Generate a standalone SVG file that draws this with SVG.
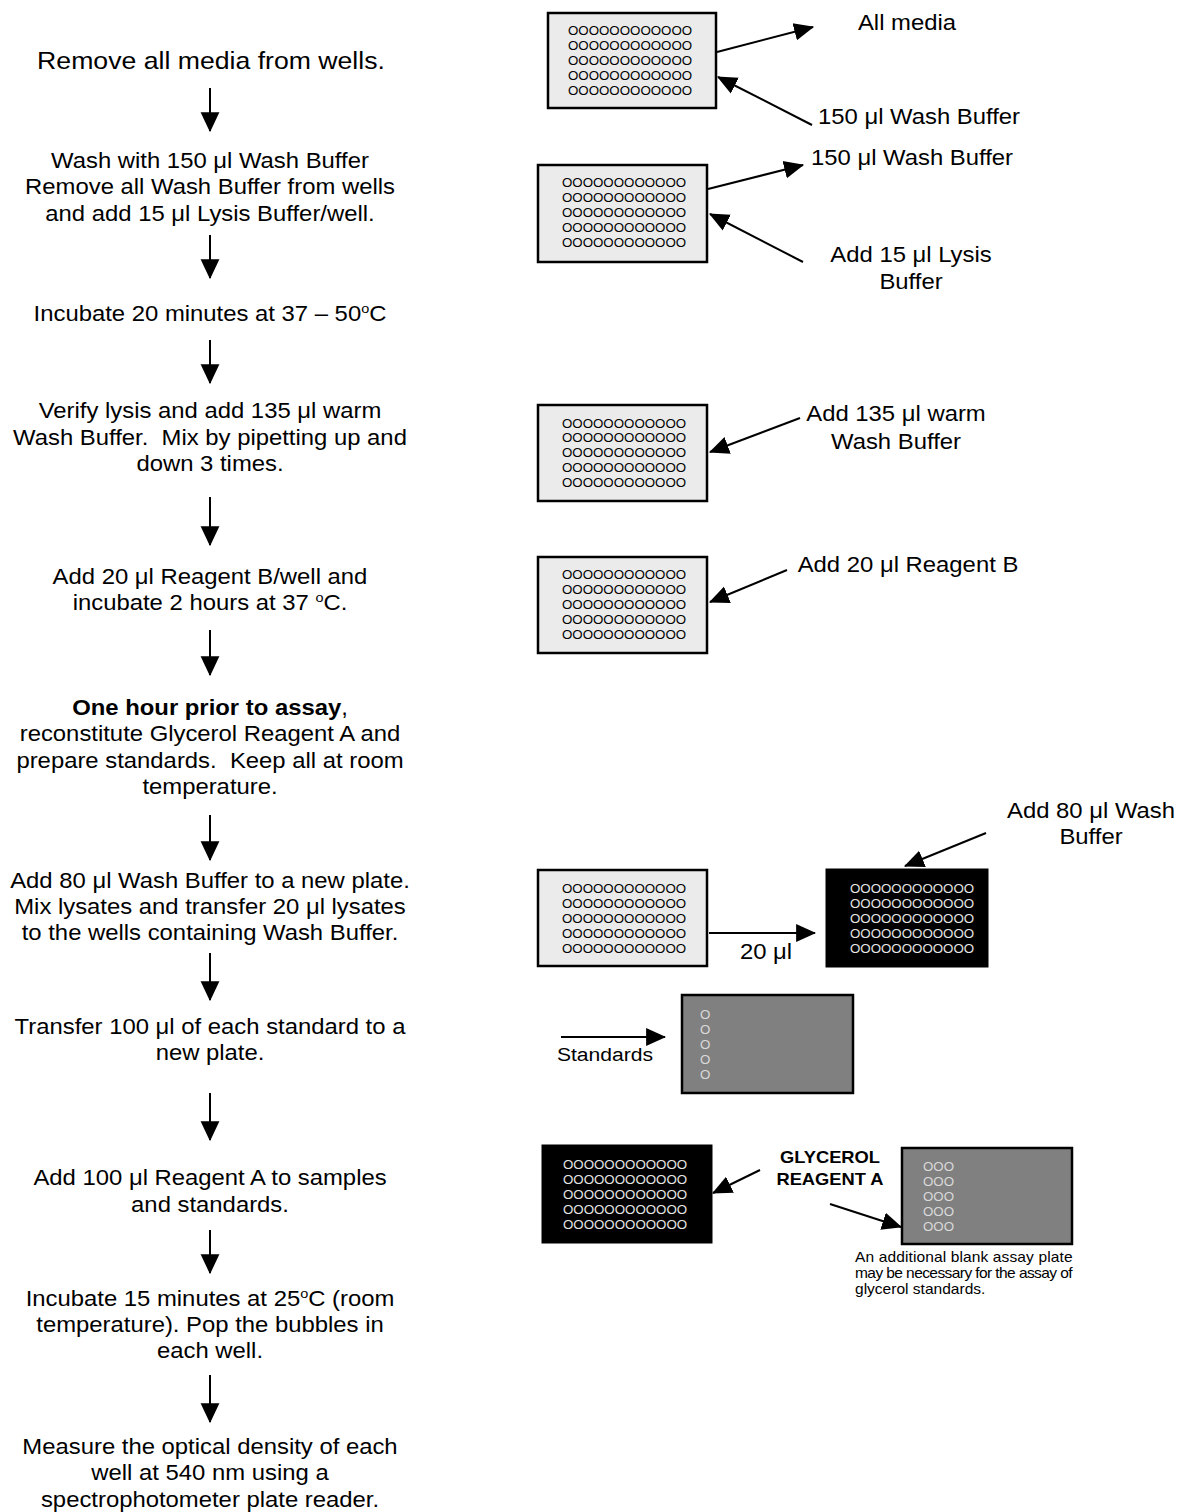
<svg xmlns="http://www.w3.org/2000/svg" width="1178" height="1512" viewBox="0 0 1178 1512">
<style>
text{font-family:"Liberation Sans",Arial,sans-serif;fill:#000}
.t{font-size:21.5px;text-anchor:middle}
.s{font-size:21.5px;text-anchor:middle}
.w{font-size:12px}
.wb{font-size:12px;fill:#e6e6e6}
.wg{font-size:12px;fill:#dadada}
.g{font-size:16.5px;font-weight:bold;text-anchor:middle}
.c{font-size:14px}
.sup{font-size:13px}
.pl{fill:#ebebeb;stroke:#000;stroke-width:2.5}
.pb{fill:#000;stroke:#000;stroke-width:1}
.pg{fill:#808080;stroke:#000;stroke-width:2.5}
.ln{stroke:#000;stroke-width:2;fill:none}
</style>
<defs>
<marker id="ah" markerUnits="userSpaceOnUse" markerWidth="20" markerHeight="20" viewBox="0 0 18 16" refX="17" refY="8" orient="auto">
<path d="M0,0 L18,8 L0,16 Z" fill="#000"/>
</marker>
<marker id="av" markerUnits="userSpaceOnUse" markerWidth="20" markerHeight="20" viewBox="0 0 17 16" refX="16" refY="8" orient="auto">
<path d="M0,0 L17,8 L0,16 Z" fill="#000"/>
</marker>
</defs>

<g id="connectors">
<line class="ln" x1="210" y1="88" x2="210" y2="131" marker-end="url(#av)"/>
<line class="ln" x1="210" y1="235" x2="210" y2="278" marker-end="url(#av)"/>
<line class="ln" x1="210" y1="340" x2="210" y2="383" marker-end="url(#av)"/>
<line class="ln" x1="210" y1="497" x2="210" y2="545" marker-end="url(#av)"/>
<line class="ln" x1="210" y1="630" x2="210" y2="675" marker-end="url(#av)"/>
<line class="ln" x1="210" y1="815" x2="210" y2="860" marker-end="url(#av)"/>
<line class="ln" x1="210" y1="953" x2="210" y2="1000" marker-end="url(#av)"/>
<line class="ln" x1="210" y1="1093" x2="210" y2="1140" marker-end="url(#av)"/>
<line class="ln" x1="210" y1="1230" x2="210" y2="1273" marker-end="url(#av)"/>
<line class="ln" x1="210" y1="1375" x2="210" y2="1422" marker-end="url(#av)"/>

<line class="ln" x1="717" y1="52" x2="813" y2="27" marker-end="url(#ah)"/>
<line class="ln" x1="812" y1="125" x2="718" y2="77" marker-end="url(#ah)"/>
<line class="ln" x1="708" y1="189" x2="803" y2="165" marker-end="url(#ah)"/>
<line class="ln" x1="803" y1="262" x2="710" y2="214" marker-end="url(#ah)"/>
<line class="ln" x1="800" y1="418" x2="710" y2="452" marker-end="url(#ah)"/>
<line class="ln" x1="787" y1="570" x2="710" y2="602" marker-end="url(#ah)"/>
<line class="ln" x1="709" y1="933" x2="815" y2="933" marker-end="url(#ah)"/>
<line class="ln" x1="986" y1="833" x2="905" y2="866" marker-end="url(#ah)"/>
<line class="ln" x1="561" y1="1037" x2="665" y2="1037" marker-end="url(#ah)"/>
<line class="ln" x1="760" y1="1170" x2="713" y2="1193" marker-end="url(#ah)"/>
<line class="ln" x1="830" y1="1204" x2="901" y2="1227" marker-end="url(#ah)"/>
</g>

<g id="step1"><text class="t" font-size="24" style="font-size:24px" transform="translate(211,0) scale(1.11,1)"><tspan x="0" y="69">Remove all media from wells.</tspan></text></g>
<g id="step2"><text class="t" transform="translate(210,0) scale(1.11,1)"><tspan x="0" y="168">Wash with 150 μl Wash Buffer</tspan><tspan x="0" y="194">Remove all Wash Buffer from wells</tspan><tspan x="0" y="221">and add 15 μl Lysis Buffer/well.</tspan></text></g>
<g id="step3"><text class="t" transform="translate(210,0) scale(1.11,1)"><tspan x="0" y="321">Incubate 20 minutes at 37 – 50<tspan class="sup" dy="-8">o</tspan><tspan dy="8">C</tspan></tspan></text></g>
<g id="step4"><text class="t" transform="translate(210,0) scale(1.11,1)"><tspan x="0" y="418">Verify lysis and add 135 μl warm</tspan><tspan x="0" y="445">Wash Buffer.&#160; Mix by pipetting up and</tspan><tspan x="0" y="471">down 3 times.</tspan></text></g>
<g id="step5"><text class="t" transform="translate(210,0) scale(1.11,1)"><tspan x="0" y="584">Add 20 μl Reagent B/well and</tspan><tspan x="0" y="610">incubate 2 hours at 37 <tspan class="sup" dy="-8">o</tspan><tspan dy="8">C.</tspan></tspan></text></g>
<g id="step6"><text class="t" transform="translate(210,0) scale(1.11,1)"><tspan x="0" y="715"><tspan font-weight="bold">One hour prior to assay</tspan>,</tspan><tspan x="0" y="741">reconstitute Glycerol Reagent A and</tspan><tspan x="0" y="768">prepare standards.&#160; Keep all at room</tspan><tspan x="0" y="794">temperature.</tspan></text></g>
<g id="step7"><text class="t" transform="translate(210,0) scale(1.11,1)"><tspan x="0" y="888">Add 80 μl Wash Buffer to a new plate.</tspan><tspan x="0" y="914">Mix lysates and transfer 20 μl lysates</tspan><tspan x="0" y="940">to the wells containing Wash Buffer.</tspan></text></g>
<g id="step8"><text class="t" transform="translate(210,0) scale(1.11,1)"><tspan x="0" y="1034">Transfer 100 μl of each standard to a</tspan><tspan x="0" y="1060">new plate.</tspan></text></g>
<g id="step9"><text class="t" transform="translate(210,0) scale(1.11,1)"><tspan x="0" y="1185">Add 100 μl Reagent A to samples</tspan><tspan x="0" y="1212">and standards.</tspan></text></g>
<g id="step10"><text class="t" transform="translate(210,0) scale(1.11,1)"><tspan x="0" y="1306">Incubate 15 minutes at 25<tspan class="sup" dy="-8">o</tspan><tspan dy="8">C (room</tspan></tspan><tspan x="0" y="1332">temperature). Pop the bubbles in</tspan><tspan x="0" y="1358">each well.</tspan></text></g>
<g id="step11"><text class="t" transform="translate(210,0) scale(1.11,1)"><tspan x="0" y="1454">Measure the optical density of each</tspan><tspan x="0" y="1480">well at 540 nm using a</tspan><tspan x="0" y="1507">spectrophotometer plate reader.</tspan></text></g>

<g id="plate1"><rect class="pl" x="548" y="13" width="168" height="95"/>
<text class="w" transform="translate(568,0) scale(1.11,1)"><tspan x="0" y="35">OOOOOOOOOOOO</tspan><tspan x="0" y="50">OOOOOOOOOOOO</tspan><tspan x="0" y="65">OOOOOOOOOOOO</tspan><tspan x="0" y="80">OOOOOOOOOOOO</tspan><tspan x="0" y="95">OOOOOOOOOOOO</tspan></text></g>
<g id="label-all-media"><text class="s" transform="translate(907,30) scale(1.11,1)">All media</text></g>
<g id="label-wash1"><text class="s" transform="translate(919,124) scale(1.11,1)">150 μl Wash Buffer</text></g>

<g id="plate2"><rect class="pl" x="538" y="165" width="169" height="97"/>
<text class="w" transform="translate(562,0) scale(1.11,1)"><tspan x="0" y="187.5">OOOOOOOOOOOO</tspan><tspan x="0" y="202.5">OOOOOOOOOOOO</tspan><tspan x="0" y="217.5">OOOOOOOOOOOO</tspan><tspan x="0" y="232.5">OOOOOOOOOOOO</tspan><tspan x="0" y="247.5">OOOOOOOOOOOO</tspan></text></g>
<g id="label-wash2"><text class="s" transform="translate(912,165) scale(1.11,1)">150 μl Wash Buffer</text></g>
<g id="label-lysis"><text class="s" transform="translate(911,0) scale(1.11,1)"><tspan x="0" y="262">Add 15 μl Lysis</tspan><tspan x="0" y="289">Buffer</tspan></text></g>

<g id="plate3"><rect class="pl" x="538" y="405" width="169" height="96"/>
<text class="w" transform="translate(562,0) scale(1.11,1)"><tspan x="0" y="427.5">OOOOOOOOOOOO</tspan><tspan x="0" y="442.5">OOOOOOOOOOOO</tspan><tspan x="0" y="457.5">OOOOOOOOOOOO</tspan><tspan x="0" y="472.5">OOOOOOOOOOOO</tspan><tspan x="0" y="487.5">OOOOOOOOOOOO</tspan></text></g>
<g id="label-135"><text class="s" transform="translate(896,0) scale(1.11,1)"><tspan x="0" y="421">Add 135 μl warm</tspan><tspan x="0" y="449">Wash Buffer</tspan></text></g>

<g id="plate4"><rect class="pl" x="538" y="557" width="169" height="96"/>
<text class="w" transform="translate(562,0) scale(1.11,1)"><tspan x="0" y="579.5">OOOOOOOOOOOO</tspan><tspan x="0" y="594.5">OOOOOOOOOOOO</tspan><tspan x="0" y="609.5">OOOOOOOOOOOO</tspan><tspan x="0" y="624.5">OOOOOOOOOOOO</tspan><tspan x="0" y="639.5">OOOOOOOOOOOO</tspan></text></g>
<g id="label-reagentB"><text class="s" transform="translate(908,572) scale(1.11,1)">Add 20 μl Reagent B</text></g>

<g id="plate5"><rect class="pl" x="538" y="870" width="169" height="96"/>
<text class="w" transform="translate(562,0) scale(1.11,1)"><tspan x="0" y="893">OOOOOOOOOOOO</tspan><tspan x="0" y="908">OOOOOOOOOOOO</tspan><tspan x="0" y="923">OOOOOOOOOOOO</tspan><tspan x="0" y="938">OOOOOOOOOOOO</tspan><tspan x="0" y="953">OOOOOOOOOOOO</tspan></text></g>
<g id="label-20ul"><text class="s" transform="translate(766,959) scale(1.11,1)">20 μl</text></g>

<g id="plate6"><rect class="pb" x="826" y="869" width="162" height="98"/>
<text class="wb" transform="translate(850,0) scale(1.11,1)"><tspan x="0" y="893">OOOOOOOOOOOO</tspan><tspan x="0" y="908">OOOOOOOOOOOO</tspan><tspan x="0" y="923">OOOOOOOOOOOO</tspan><tspan x="0" y="938">OOOOOOOOOOOO</tspan><tspan x="0" y="953">OOOOOOOOOOOO</tspan></text></g>
<g id="label-80ul"><text class="s" transform="translate(1091,0) scale(1.11,1)"><tspan x="0" y="818">Add 80 μl Wash</tspan><tspan x="0" y="844">Buffer</tspan></text></g>

<g id="plate7"><rect class="pg" x="682" y="995" width="171" height="98"/>
<text class="wg" transform="translate(700,0) scale(1.11,1)"><tspan x="0" y="1019">O</tspan><tspan x="0" y="1034">O</tspan><tspan x="0" y="1049">O</tspan><tspan x="0" y="1064">O</tspan><tspan x="0" y="1079">O</tspan></text></g>
<g id="label-standards"><text class="s" style="font-size:19px" transform="translate(605,1061) scale(1.11,1)">Standards</text></g>

<g id="plate8"><rect class="pb" x="542" y="1145" width="170" height="98"/>
<text class="wb" transform="translate(563,0) scale(1.11,1)"><tspan x="0" y="1169">OOOOOOOOOOOO</tspan><tspan x="0" y="1184">OOOOOOOOOOOO</tspan><tspan x="0" y="1199">OOOOOOOOOOOO</tspan><tspan x="0" y="1214">OOOOOOOOOOOO</tspan><tspan x="0" y="1229">OOOOOOOOOOOO</tspan></text></g>
<g id="label-glycerol"><text class="g" transform="translate(830,0) scale(1.11,1)"><tspan x="0" y="1163">GLYCEROL</tspan><tspan x="0" y="1185">REAGENT A</tspan></text></g>

<g id="plate9"><rect class="pg" x="902" y="1148" width="170" height="96"/>
<text class="wg" transform="translate(923,0) scale(1.11,1)"><tspan x="0" y="1171">OOO</tspan><tspan x="0" y="1186">OOO</tspan><tspan x="0" y="1201">OOO</tspan><tspan x="0" y="1216">OOO</tspan><tspan x="0" y="1231">OOO</tspan></text></g>
<g id="caption"><text class="c" transform="translate(855,0) scale(1.11,1)"><tspan x="0" y="1262" textLength="196" lengthAdjust="spacing">An additional blank assay plate</tspan><tspan x="0" y="1278" textLength="196" lengthAdjust="spacing">may be necessary for the assay of</tspan><tspan x="0" y="1294">glycerol standards.</tspan></text></g>
</svg>
